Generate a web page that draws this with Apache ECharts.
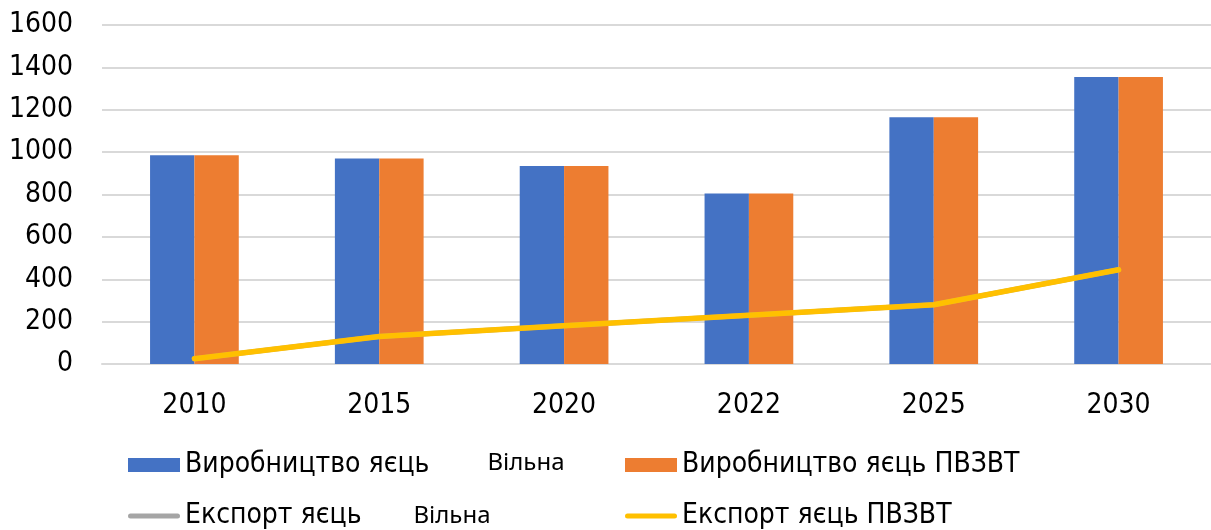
<!DOCTYPE html>
<html>
<head>
<meta charset="utf-8">
<script src="https://cdn.jsdelivr.net/npm/echarts@6/dist/echarts.min.js"></script>
<style>
  html, body { margin: 0; padding: 0; background: #fff; }
  #main { width: 1211px; height: 530px; }
</style>
</head>
<body>
<div id="main"></div>
<script>
const years = ["2010", "2015", "2020", "2022", "2025", "2030"];
const prodFree = [985, 970, 935, 805, 1165, 1355];
const prodPvzvt = [985, 970, 935, 805, 1165, 1355];
const exportFree = [25, 130, 180, 230, 280, 445];
const exportPvzvt = [25, 130, 180, 230, 280, 445];
const yTicks = [0, 200, 400, 600, 800, 1000, 1200, 1400, 1600];

const FONT = "'DejaVu Sans Condensed', 'DejaVu Sans', sans-serif";
const GRID = "#d9d9d9";
// rounded line for the legend of the line series
const LINE_ICON = "path://M2.5,0 H49.5 A2.5,2.5 0 0 1 49.5,5 H2.5 A2.5,2.5 0 0 1 2.5,0 Z";

var chart = echarts.init(document.getElementById("main"));

const legendText = {
  color: "#000",
  fontFamily: FONT,
  fontSize: 28,
  rich: {
    a: { fontFamily: FONT, fontSize: 28, color: "#000" },
    b1: { fontFamily: "'Noto Sans', sans-serif", fontSize: 24, color: "#000", padding: [0, 0, 4, 58] },
    b2: { fontFamily: "'Noto Sans', sans-serif", fontSize: 24, color: "#000", padding: [0, 0, 0, 52] },
  },
};

function oneLegend(name, left, top, fmt, isLine) {
  return {
    data: [name],
    left: left,
    top: top,
    padding: 0,
    icon: isLine ? LINE_ICON : "rect",
    itemWidth: 52,
    itemHeight: isLine ? 5 : 14,
    selectedMode: false,
    textStyle: legendText,
    formatter: fmt,
  };
}

const option = {
  animation: false,
  grid: { left: 102, right: 0, top: 25, bottom: 166 },
  legend: [
    oneLegend("Виробництво яєць Вільна", 128, 451, () => "{a|Виробництво яєць}{b1|Вільна}", false),
    oneLegend("Виробництво яєць ПВЗВТ", 625, 451, (n) => n, false),
    oneLegend("Експорт яєць Вільна", 128, 502, () => "{a|Експорт яєць}{b2|Вільна}", true),
    oneLegend("Експорт яєць ПВЗВТ", 625, 502, (n) => n, true),
  ],
  xAxis: {
    type: "category",
    data: years,
    axisTick: { show: false },
    axisLine: { lineStyle: { color: GRID, width: 2 } },
    axisLabel: { color: "#000", fontFamily: FONT, fontSize: 28, margin: 28 },
  },
  yAxis: {
    type: "value",
    min: yTicks[0],
    max: yTicks[yTicks.length - 1],
    interval: 200,
    axisLine: { show: false },
    axisTick: { show: false },
    splitLine: { lineStyle: { color: GRID, width: 2 } },
    axisLabel: {
      color: "#000",
      fontFamily: FONT,
      fontSize: 28,
      margin: 29,
      formatter: (v) => String(v),
    },
  },
  series: [
    {
      name: "Виробництво яєць Вільна",
      type: "bar",
      data: prodFree,
      barGap: "0%",
      barCategoryGap: "52%",
      itemStyle: { color: "#4472c4" },
    },
    {
      name: "Виробництво яєць ПВЗВТ",
      type: "bar",
      data: prodPvzvt,
      itemStyle: { color: "#ed7d31" },
    },
    {
      name: "Експорт яєць Вільна",
      type: "line",
      data: exportFree,
      symbol: "none",
      itemStyle: { color: "#a5a5a5" },
      lineStyle: { color: "#a5a5a5", width: 5, cap: "round" },
    },
    {
      name: "Експорт яєць ПВЗВТ",
      type: "line",
      data: exportPvzvt,
      symbol: "none",
      itemStyle: { color: "#ffc000" },
      lineStyle: { color: "#ffc000", width: 5.5, cap: "round", join: "round" },
    },
  ],
};

chart.setOption(option);
</script>
</body>
</html>
